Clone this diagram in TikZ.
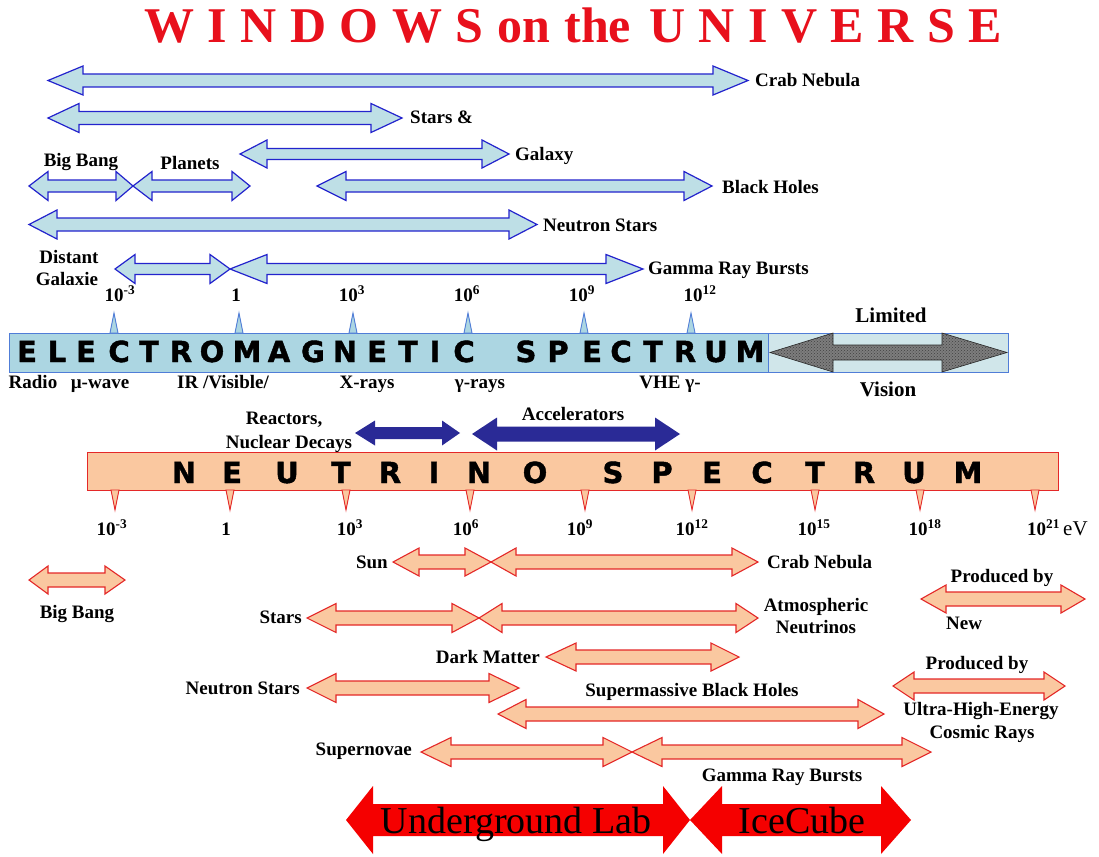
\documentclass[tikz,border=0pt]{standalone}
\usepackage{fontspec}
\setmainfont{Liberation Serif}
\newfontfamily\heavyfont{DejaVu Sans}[UprightFont=* Bold, FakeBold=1.5]
\usetikzlibrary{patterns}
\definecolor{topfill}{RGB}{190,223,230}
\definecolor{topline}{RGB}{35,35,205}
\definecolor{embar}{RGB}{172,214,226}
\definecolor{emline}{RGB}{80,125,215}
\definecolor{limfill}{RGB}{208,230,234}
\definecolor{peach}{RGB}{250,200,160}
\definecolor{nline}{RGB}{228,40,40}
\definecolor{navy}{RGB}{42,42,150}
\definecolor{bigred}{RGB}{245,0,0}
\definecolor{titlered}{RGB}{232,16,28}
\definecolor{grayarr}{RGB}{125,125,125}
\newcommand{\dbl}[8]{%
 \path[#1] (#2,#6) -- (#3,#6-#7) -- (#3,#6-#8) -- (#4,#6-#8) -- (#4,#6-#7) -- (#5,#6)
  -- (#4,#6+#7) -- (#4,#6+#8) -- (#3,#6+#8) -- (#3,#6+#7) -- cycle;}
\newcommand{\tsp}{\kern13.5pt}
\tikzset{
 emarr/.style={fill=topfill, draw=topline, line width=1.2pt, line join=miter},
 nuarr/.style={fill=peach, draw=nline, line width=1.1pt, line join=miter},
 navyarr/.style={fill=navy},
 redarr/.style={fill=bigred},
 lbl/.style={inner sep=0pt, font=\bfseries\fontsize{19}{21}\selectfont},
 biglbl/.style={inner sep=0pt, font=\bfseries\fontsize{21}{23}\selectfont},
 redlbl/.style={inner sep=0pt, font=\fontsize{38}{40}\selectfont},
 spletter/.style={inner sep=0pt, anchor=base, font=\heavyfont\fontsize{29}{30}\selectfont},
 emtick/.style={fill=embar, draw=emline, line width=0.9pt},
 nutick/.style={fill=peach, draw=nline, line width=0.9pt},
}
\begin{document}
\begin{tikzpicture}[x=1pt,y=-1pt]
\useasboundingbox (0,0) rectangle (1099,856);
\fill[white] (0,0) rectangle (1099,856);
% title
\node[inner sep=0pt, anchor=base west, text=titlered, font=\bfseries\fontsize{50}{52}\selectfont] (title) at (144,43)
 {W\tsp I\tsp N\tsp D\tsp O\tsp W\tsp S\kern14pt on\kern14pt the\kern18pt U\tsp N\tsp I\tsp V\tsp E\tsp R\tsp S\tsp E};
% top EM arrows
\dbl{emarr}{48}{83}{713}{748}{80.5}{14.5}{6.5}
\dbl{emarr}{48}{79}{371}{402}{118}{14.5}{6.5}
\dbl{emarr}{240}{267}{482}{509}{154}{14}{5.5}
\dbl{emarr}{29}{48}{116}{133}{186}{14.5}{6}
\dbl{emarr}{133}{152}{232}{250}{186}{14.5}{6}
\dbl{emarr}{317}{346}{684}{712}{186}{14.5}{6}
\dbl{emarr}{29}{57}{509}{537}{224.5}{14.5}{6.5}
\dbl{emarr}{115}{135}{210}{230}{269}{14.5}{5.5}
\dbl{emarr}{230}{267}{606}{643}{269}{14.5}{5.5}
\node[lbl, anchor=base west] (t1) at (755,87) {Crab Nebula};
\node[lbl, anchor=base west] (t2) at (410,124) {Stars \&};
\node[lbl, anchor=base west] (t3) at (515,160) {Galaxy};
\node[lbl, anchor=base] (t4) at (81,166) {Big Bang};
\node[lbl, anchor=base] (t5) at (190,169) {Planets};
\node[lbl, anchor=base west] (t6) at (722,193) {Black Holes};
\node[lbl, anchor=base west] (t7) at (543,231) {Neutron Stars};
\node[lbl, anchor=base] (t8) at (69,263) {Distant};
\node[lbl, anchor=base] (t9) at (67,285) {Galaxie};
\node[lbl, anchor=base west] (t10) at (648,274) {Gamma Ray Bursts};
% EM tick labels
\node[lbl, anchor=base] (e1) at (120,301) {10\textsuperscript{-3}};
\node[lbl, anchor=base] (e2) at (236,301) {1};
\node[lbl, anchor=base] (e3) at (352,301) {10\textsuperscript{3}};
\node[lbl, anchor=base] (e4) at (467,301) {10\textsuperscript{6}};
\node[lbl, anchor=base] (e5) at (582,301) {10\textsuperscript{9}};
\node[lbl, anchor=base] (e6) at (700,301) {10\textsuperscript{12}};
% EM bar
\path[fill=embar, draw=emline, line width=1pt] (9,333) rectangle (768,372);
\path[fill=limfill, draw=emline, line width=1pt] (768,333) rectangle (1008,372);
\dbl{fill=grayarr, draw=black!85, line width=0.6pt}{770}{833}{942}{1007}{352.5}{19.5}{7.5}
\dbl{pattern=crosshatch dots, pattern color=black!75}{770}{833}{942}{1007}{352.5}{19.5}{7.5}
\foreach \x [count=\i] in {114,239,353,468,584,691}
 \path[emtick] (\x-4,333) -- (\x,313) -- (\x+4,333) -- cycle;
\foreach \l/\x [count=\i] in {E/27,L/57,E/86,C/119,T/149,R/181,O/212,M/247,A/279,G/313,N/345,E/377,T/408,I/435,C/464,S/526,P/558,E/592,C/621,T/653,R/685,U/716,M/750}
 \node[spletter] (em\i) at (\x,362) {\l};
\node[lbl, anchor=base] (b1) at (33,388) {Radio};
\node[lbl, anchor=base] (b2) at (100,388) {µ-wave};
\node[lbl, anchor=base] (b3) at (223,388) {IR /Visible/};
\node[lbl, anchor=base] (b4) at (367,388) {X-rays};
\node[lbl, anchor=base] (b5) at (480,388) {γ-rays};
\node[lbl, anchor=base] (b6) at (670,388) {VHE γ-};
\node[biglbl, anchor=base] (lim) at (891,322) {Limited};
\node[biglbl, anchor=base] (vis) at (888,396) {Vision};
% reactors / accelerators
\dbl{navyarr}{355}{375}{442}{460}{433}{12.5}{6}
\dbl{navyarr}{472}{497}{655}{680}{434}{16.5}{7.5}
\node[lbl, anchor=base] (r1) at (284,424) {Reactors,};
\node[lbl, anchor=base] (r2) at (289,448) {Nuclear Decays};
\node[lbl, anchor=base] (acc) at (573,420) {Accelerators};
% neutrino bar
\path[fill=peach, draw=nline, line width=1pt] (87,452) rectangle (1058,490);
\foreach \x in {115,230,346,470,585,692,815,920,1035}
 \path[nutick] (\x-4,490) -- (\x,510) -- (\x+4,490) -- cycle;
\foreach \l/\x [count=\i] in {N/184,E/232,U/287,T/341,R/390,I/434,N/479,O/535,S/613,P/662,E/712,C/762,T/815,R/864,U/914,M/968}
 \node[spletter] (nu\i) at (\x,483) {\l};
\node[lbl, anchor=base] (n1) at (112,535) {10\textsuperscript{-3}};
\node[lbl, anchor=base] (n2) at (226,535) {1};
\node[lbl, anchor=base] (n3) at (350,535) {10\textsuperscript{3}};
\node[lbl, anchor=base] (n4) at (466,535) {10\textsuperscript{6}};
\node[lbl, anchor=base] (n5) at (580,535) {10\textsuperscript{9}};
\node[lbl, anchor=base] (n6) at (692,535) {10\textsuperscript{12}};
\node[lbl, anchor=base] (n7) at (814,535) {10\textsuperscript{15}};
\node[lbl, anchor=base] (n8) at (925,535) {10\textsuperscript{18}};
\node[lbl, anchor=base west] (n9) at (1027,535) {10\textsuperscript{21}\,{\mdseries\fontsize{21}{22}\selectfont eV}};
% neutrino arrows
\dbl{nuarr}{29}{48}{105}{125}{580}{14}{7}
\dbl{nuarr}{393}{419}{465}{491}{562}{14}{7}
\dbl{nuarr}{491}{516}{732}{758}{562}{14}{7}
\dbl{nuarr}{307}{336}{452}{479}{618}{14.5}{7}
\dbl{nuarr}{479}{502}{736}{758}{618}{14.5}{7}
\dbl{nuarr}{546}{576}{711}{739}{657}{14}{7}
\dbl{nuarr}{307}{336}{489}{519}{688}{14.5}{7}
\dbl{nuarr}{498}{526}{858}{884}{714}{14.5}{7}
\dbl{nuarr}{421}{451}{603}{632}{752}{14.5}{7}
\dbl{nuarr}{632}{662}{902}{931}{752}{14.5}{7}
\dbl{nuarr}{921}{946}{1061}{1085}{599}{14}{7}
\dbl{nuarr}{893}{914}{1044}{1065}{686}{14}{7}
\node[lbl, anchor=base] (s1) at (77,618) {Big Bang};
\node[lbl, anchor=base east] (s2) at (388,568) {Sun};
\node[lbl, anchor=base west] (s3) at (767,568) {Crab Nebula};
\node[lbl, anchor=base east] (s4) at (302,623) {Stars};
\node[lbl, anchor=base] (s5) at (816,611) {Atmospheric};
\node[lbl, anchor=base] (s6) at (816,633) {Neutrinos};
\node[lbl, anchor=base] (s7) at (1002,582) {Produced by};
\node[lbl, anchor=base west] (s8) at (946,629) {New};
\node[lbl, anchor=base east] (s9) at (540,663) {Dark Matter};
\node[lbl, anchor=base east] (s10) at (300,694) {Neutron Stars};
\node[lbl, anchor=base] (s11) at (692,696) {Supermassive Black Holes};
\node[lbl, anchor=base] (s12) at (977,669) {Produced by};
\node[lbl, anchor=base] (s13) at (981,715) {Ultra-High-Energy};
\node[lbl, anchor=base] (s14) at (982,738) {Cosmic Rays};
\node[lbl, anchor=base east] (s15) at (412,755) {Supernovae};
\node[lbl, anchor=base] (s16) at (782,781) {Gamma Ray Bursts};
% big red arrows
\dbl{redarr}{346}{373}{663}{690}{820}{34}{16}
\dbl{redarr}{690}{722}{881}{911}{820}{34}{16}
\node[redlbl, anchor=base] (ug) at (516,833) {Underground Lab};
\node[redlbl, anchor=base] (ic) at (802,833) {IceCube};
\end{tikzpicture}
\end{document}
